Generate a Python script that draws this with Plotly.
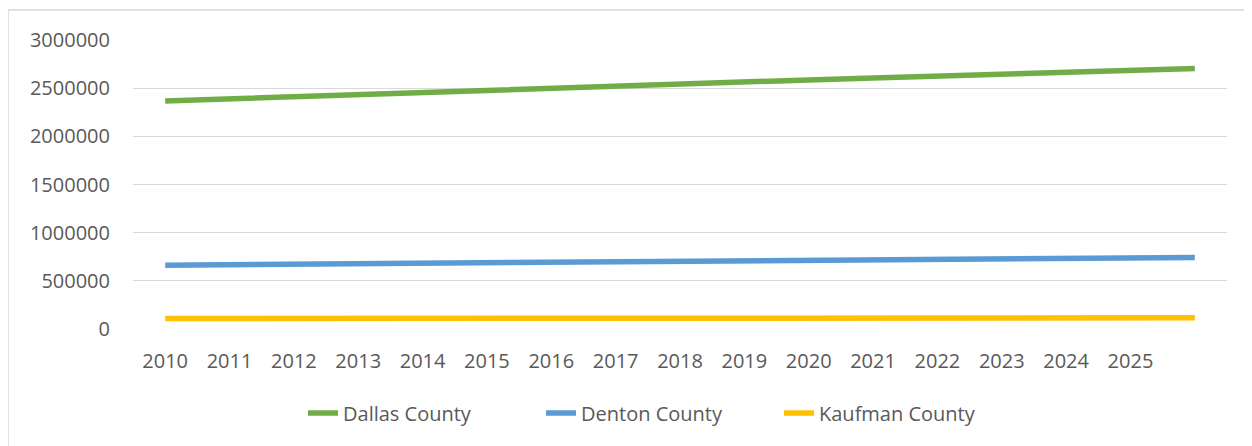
import plotly.graph_objects as go

years = list(range(2010, 2027))
tick_years = list(range(2010, 2026))
tick_labels = [str(y) for y in tick_years]

dallas = [2368000, 2391000, 2414000, 2436000, 2458000, 2480000, 2502000, 2523000,
          2544000, 2565000, 2586000, 2606000, 2626000, 2646000, 2665000, 2684000, 2703000]
denton = [663000, 668000, 673000, 678000, 683000, 688000, 693000, 698000,
          703000, 708000, 713000, 718000, 723000, 728000, 733000, 738000, 743000]
kaufman = [108000, 108500, 109000, 109500, 110000, 110500, 111000, 111500,
           112000, 112500, 113000, 113500, 114000, 114500, 115000, 115500, 116000]

series = [("Dallas County", dallas, "#70AD47"),
          ("Denton County", denton, "#5B9BD5"),
          ("Kaufman County", kaufman, "#FFC000")]

W, H = 1252, 446
OFF = 8  # page offset
L, R, T, B = 133 - OFF, 1227 - OFF, 40 - OFF, 329 - OFF

fig = go.Figure()
for name, vals, col in series:
    fig.add_trace(go.Scatter(x=years, y=vals, name=name, mode="lines",
                             line=dict(color=col, width=5.5)))

font = dict(family="Open Sans, Liberation Sans, sans-serif", size=20, color="#595959")

pw = R - L
ph = B - T
def px_x(x):
    return (x - OFF - L) / pw
def px_y(y):
    return (B - (y - OFF)) / ph

fig.update_layout(
    width=W, height=H,
    margin=dict(l=L, r=W - R, t=T, b=H - B, pad=0),
    paper_bgcolor="white", plot_bgcolor="white",
    font=font,
    showlegend=True,
    legend=dict(orientation="h", x=px_x(303), xanchor="left",
                y=px_y(413), yanchor="middle", font=font,
                entrywidth=193, entrywidthmode="pixels",
                bgcolor="rgba(0,0,0,0)"),
    xaxis=dict(range=[2009.5, 2026.5], tickmode="array", tickvals=tick_years,
               ticktext=tick_labels, showgrid=False, zeroline=False,
               showline=False, ticks="", ticklabelstandoff=18, tickfont=font),
    yaxis=dict(range=[0, 3000000], tickmode="array",
               tickvals=[0, 500000, 1000000, 1500000, 2000000, 2500000, 3000000],
               ticktext=["0", "500000", "1000000", "1500000", "2000000", "2500000", "3000000"],
               showgrid=True, gridcolor="#D9D9D9", gridwidth=1.3, zeroline=False,
               showline=False, ticks="", ticklabelstandoff=22, tickfont=font),
    shapes=[dict(type="rect", xref="paper", yref="paper",
                 x0=px_x(8), y0=px_y(480), x1=px_x(1290), y1=px_y(10),
                 line=dict(color="#D9D9D9", width=1.5), fillcolor="rgba(0,0,0,0)",
                 layer="below")],
)

fig.write_html("out.html")
